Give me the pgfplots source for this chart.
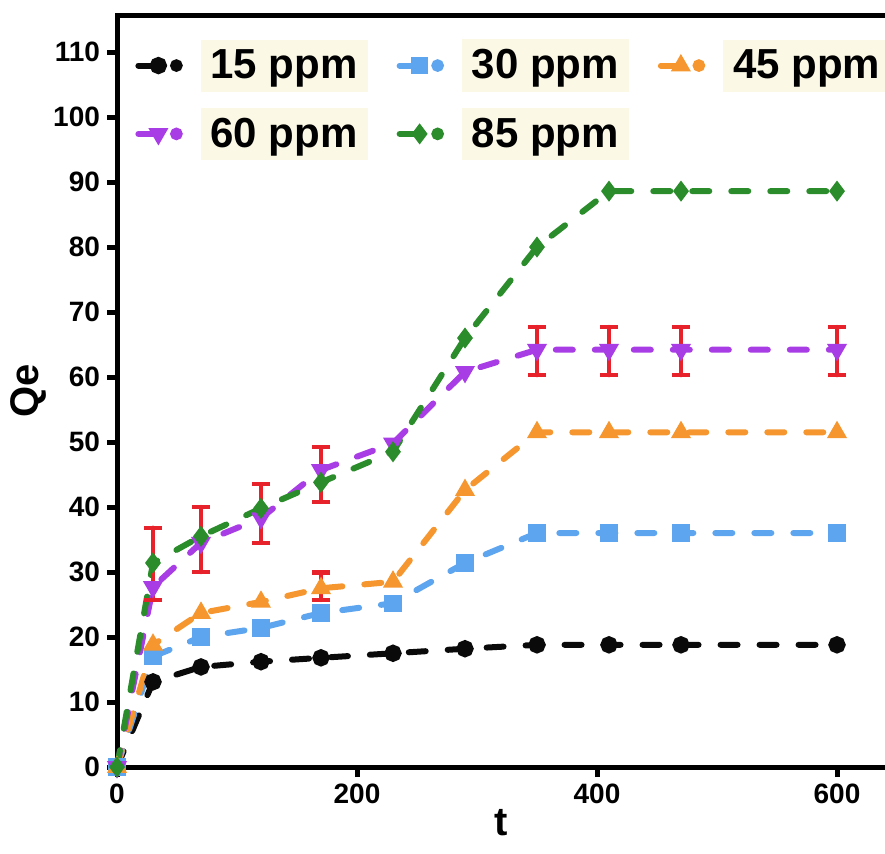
\documentclass[border=0pt]{standalone}
\usepackage{fontspec}
\setmainfont{Liberation Sans}
\usepackage{pgfplots}
\pgfplotsset{compat=1.18}

\definecolor{cblack}{HTML}{0A0A0A}
\definecolor{cblue}{HTML}{5EA5F0}
\definecolor{corange}{HTML}{F5962F}
\definecolor{cpurple}{HTML}{A93DE5}
\definecolor{cgreen}{HTML}{2A8C2A}
\definecolor{ebred}{HTML}{E8222B}
\definecolor{legbg}{HTML}{FBF9E6}

\begin{document}
\begin{tikzpicture}
\begin{axis}[
  name=ax, scale only axis,
  width=390pt, height=376pt,
  xmin=0, xmax=650, ymin=0, ymax=115.7,
  clip=false,
  axis line style={line width=2.5pt},
  tick style={line width=2.5pt, black},
  tick align=outside, major tick length=5pt, tick pos=left,
  xtick={0,200,400,600}, ytick={0,10,...,110},
  /pgf/number format/assume math mode=true,
  ticklabel style={font=\fontsize{14}{14}\selectfont\bfseries},
  xlabel={t}, ylabel={Qe},
  label style={font=\fontsize{20}{20}\selectfont\bfseries},
  xlabel style={at={(axis cs:320,0)}, anchor=north, yshift=-20pt, inner sep=1pt},
  ylabel style={at={(axis description cs:-0.082,0.5)}, anchor=south},
  every axis plot/.append style={line width=3pt, dash pattern=on 8.5pt off 11pt, line cap=round, mark size=2.8pt},
  legend columns=3,
  legend style={at={(0,1)}, anchor=north west, xshift=6pt, yshift=-10pt,
    draw=none, fill=none, row sep=8pt,
    font=\fontsize{21}{21}\selectfont\bfseries,
    nodes={fill=legbg, inner sep=5pt},
    /tikz/every odd column/.append style={column sep=9pt},
    /tikz/every even column/.append style={column sep=14.5pt}},
  legend image code/.code={
    \draw[#1, solid] (0pt,0pt) -- (9pt,0pt);
    \draw[#1, solid] plot coordinates {(10pt,0pt)};
    \fill[#1, solid] (19pt,0pt) circle (1.6pt);
  },
]
\addplot[cblack, mark=*, mark options={solid}] coordinates {
  (0,0) (30,13.1) (70,15.4) (120,16.2) (170,16.8) (230,17.5) (290,18.2)
  (350,18.8) (410,18.8) (470,18.8) (600,18.8)};
\addplot[cblue, mark=square*, mark options={solid}] coordinates {
  (0,0) (30,17.0) (70,20.0) (120,21.4) (170,23.7) (230,25.2) (290,31.4)
  (350,36.0) (410,36.0) (470,36.0) (600,36.0)};
\addplot[corange, mark=triangle*, mark options={solid}] coordinates {
  (0,0) (30,18.8) (70,23.7) (120,25.4) (170,27.5) (230,28.5) (290,42.6)
  (350,51.5) (410,51.5) (470,51.5) (600,51.5)};
\addplot[cpurple, mark=triangle*, mark options={solid, rotate=180}] coordinates {
  (0,0) (30,27.7) (70,34.5) (120,38.3) (170,45.7) (230,49.8) (290,60.8)
  (350,64.2) (410,64.2) (470,64.2) (600,64.2)};
\addplot[cgreen, mark=diamond*, mark options={solid}] coordinates {
  (0,0) (30,31.4) (70,35.5) (120,39.8) (170,43.8) (230,48.5) (290,66.0)
  (350,80.0) (410,88.6) (470,88.6) (600,88.6)};
\addplot[draw=none, mark=none, forget plot,
  error bars/.cd, y dir=both, y explicit,
  error bar style={line width=2.2pt, draw=ebred, solid},
  error mark options={rotate=90, mark size=4.5pt, line width=2.2pt, draw=ebred, solid}]
  coordinates {
  (30,31.25) +- (0,5.55)
  (70,35.0) +- (0,5.0)
  (120,39.0) +- (0,4.5)
  (170,45.0) +- (0,4.2)
  (170,27.8) +- (0,2.1)
  (350,64.0) +- (0,3.7)
  (410,64.0) +- (0,3.7)
  (470,64.0) +- (0,3.7)
  (600,64.0) +- (0,3.7)};
\legend{15 ppm, 30 ppm, 45 ppm, 60 ppm, 85 ppm}
\end{axis}
\pgfresetboundingbox
\useasboundingbox ([xshift=-58.5pt,yshift=-43pt]ax.south west) rectangle ([xshift=-6pt,yshift=7.5pt]ax.north east);
\end{tikzpicture}
\end{document}
